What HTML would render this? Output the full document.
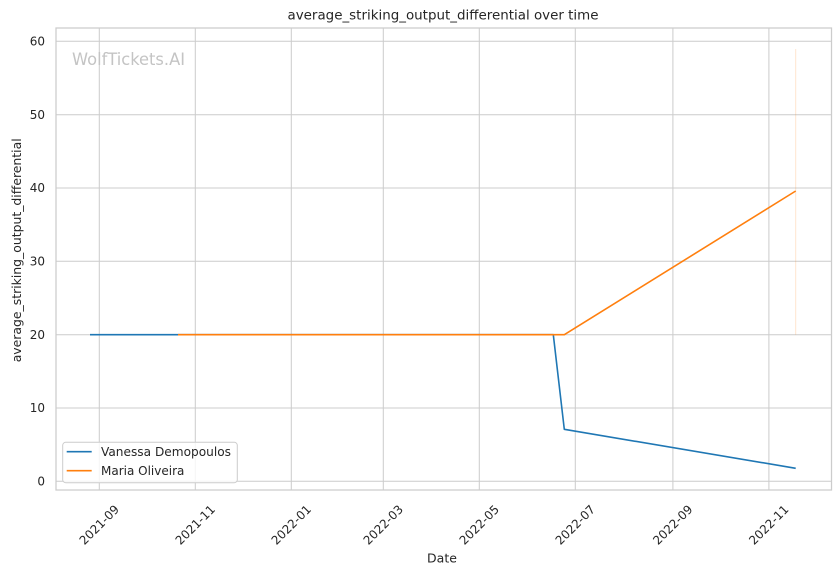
<!DOCTYPE html>
<html><head><meta charset="utf-8"><style>
html,body{margin:0;padding:0;background:#fff;}
svg{display:block;font-family:"DejaVu Sans","Liberation Sans",sans-serif;}
</style></head><body>
<svg width="840" height="575" viewBox="0 0 840 575" xmlns="http://www.w3.org/2000/svg">
<rect width="840" height="575" fill="#fff"/>
<!-- grid -->
<g stroke="#cccccc" stroke-width="1">
<line x1="56" x2="831" y1="481.3" y2="481.3"/>
<line x1="56" x2="831" y1="408" y2="408"/>
<line x1="56" x2="831" y1="334.7" y2="334.7"/>
<line x1="56" x2="831" y1="261.3" y2="261.3"/>
<line x1="56" x2="831" y1="188" y2="188"/>
<line x1="56" x2="831" y1="114.7" y2="114.7"/>
<line x1="56" x2="831" y1="41.3" y2="41.3"/>
<line x1="99.3" x2="99.3" y1="28" y2="490"/>
<line x1="195.3" x2="195.3" y1="28" y2="490"/>
<line x1="291.3" x2="291.3" y1="28" y2="490"/>
<line x1="383.3" x2="383.3" y1="28" y2="490"/>
<line x1="479.3" x2="479.3" y1="28" y2="490"/>
<line x1="575.3" x2="575.3" y1="28" y2="490"/>
<line x1="672.9" x2="672.9" y1="28" y2="490"/>
<line x1="768.9" x2="768.9" y1="28" y2="490"/>
</g>
<rect x="56" y="28" width="775.5" height="462" fill="none" stroke="#cccccc" stroke-width="1.25"/>
<!-- watermark -->
<text x="72" y="65" font-size="16.5" fill="#c4c4c4" textLength="113" lengthAdjust="spacingAndGlyphs">WolfTickets.AI</text>
<!-- faint vertical -->
<line x1="795.7" x2="795.7" y1="49" y2="334.7" stroke="#ff7f0e" stroke-opacity="0.2" stroke-width="1"/>
<!-- series -->
<polyline points="90,334.7 553.3,334.7 564.3,429.3 795.7,468.3" fill="none" stroke="#1f77b4" stroke-width="1.6" stroke-linejoin="round"/>
<polyline points="178,334.7 564.3,334.7 795.7,191" fill="none" stroke="#ff7f0e" stroke-width="1.6" stroke-linejoin="round"/>
<!-- y ticks -->
<g font-size="12" fill="#262626" text-anchor="end">
<text x="45" y="485.5">0</text>
<text x="45" y="412.2">10</text>
<text x="45" y="338.9">20</text>
<text x="45" y="265.5">30</text>
<text x="45" y="192.2">40</text>
<text x="45" y="118.9">50</text>
<text x="45" y="45.5">60</text>
</g>
<!-- x ticks -->
<g font-size="12" fill="#262626" text-anchor="middle">
<text transform="translate(99.3,525) rotate(-45)" dy="4">2021-09</text>
<text transform="translate(195.3,525) rotate(-45)" dy="4">2021-11</text>
<text transform="translate(291.3,525) rotate(-45)" dy="4">2022-01</text>
<text transform="translate(383.3,525) rotate(-45)" dy="4">2022-03</text>
<text transform="translate(479.3,525) rotate(-45)" dy="4">2022-05</text>
<text transform="translate(575.3,525) rotate(-45)" dy="4">2022-07</text>
<text transform="translate(672.9,525) rotate(-45)" dy="4">2022-09</text>
<text transform="translate(768.9,525) rotate(-45)" dy="4">2022-11</text>
</g>
<!-- labels -->
<text x="442" y="562.5" font-size="12.5" fill="#262626" text-anchor="middle">Date</text>
<text transform="translate(21,250.3) rotate(-90)" font-size="12.5" fill="#262626" text-anchor="middle" textLength="224" lengthAdjust="spacingAndGlyphs">average_striking_output_differential</text>
<text x="443" y="19.5" font-size="13.3" fill="#262626" text-anchor="middle" textLength="311" lengthAdjust="spacingAndGlyphs">average_striking_output_differential over time</text>
<!-- legend -->
<rect x="62.7" y="442.3" width="174.6" height="40.4" rx="3" fill="#fff" fill-opacity="0.8" stroke="#cccccc" stroke-width="1"/>
<line x1="66.7" x2="91.7" y1="451.7" y2="451.7" stroke="#1f77b4" stroke-width="1.6"/>
<line x1="66.7" x2="91.7" y1="470.7" y2="470.7" stroke="#ff7f0e" stroke-width="1.6"/>
<text x="101" y="456" font-size="12" fill="#262626" textLength="130" lengthAdjust="spacingAndGlyphs">Vanessa Demopoulos</text>
<text x="101" y="475" font-size="12" fill="#262626">Maria Oliveira</text>
</svg>
</body></html>
